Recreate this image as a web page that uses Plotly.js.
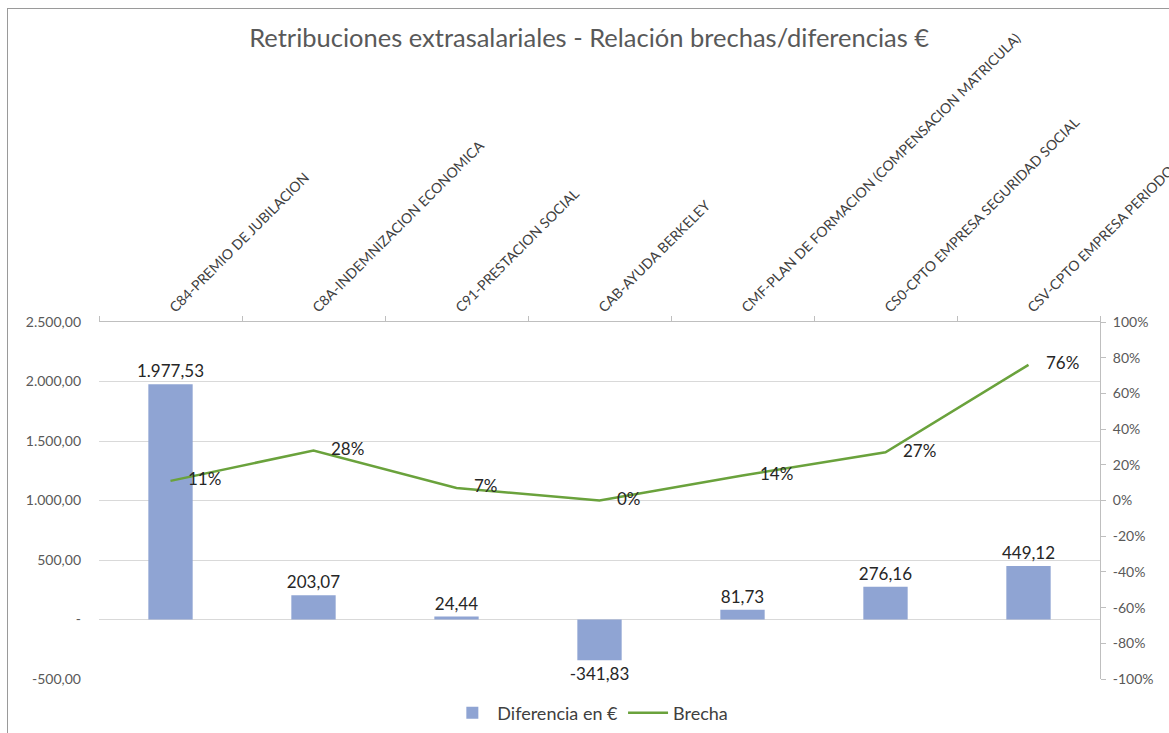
<!DOCTYPE html>
<html>
<head>
<meta charset="utf-8">
<script src="https://cdn.plot.ly/plotly-3.0.1.min.js"></script>
<style>
  html, body { margin: 0; padding: 0; background: #ffffff; }
  #frame { position: absolute; left: 7px; top: 8px; width: 1300px; height: 900px;
           border-left: 1.5px solid #9a9a9a; border-top: 1.5px solid #9a9a9a; }
  #chart { position: absolute; left: 0; top: 0; width: 1169px; height: 733px; }
</style>
</head>
<body>
<div id="frame"></div>
<div id="chart"></div>
<script>
const categories = [
  "C84-PREMIO DE JUBILACION",
  "C8A-INDEMNIZACION ECONOMICA",
  "C91-PRESTACION SOCIAL",
  "CAB-AYUDA BERKELEY",
  "CMF-PLAN DE FORMACION (COMPENSACION MATRICULA)",
  "CS0-CPTO EMPRESA SEGURIDAD SOCIAL",
  "CSV-CPTO EMPRESA PERIODO"
];
const diferencia = [1977.53, 203.07, 24.44, -341.83, 81.73, 276.16, 449.12];
const brecha = [0.11, 0.28, 0.07, 0.00, 0.14, 0.27, 0.76];

const leftTickVals = [-500, 0, 500, 1000, 1500, 2000, 2500];
const leftTickText = ["-500,00", "-", "500,00", "1.000,00", "1.500,00", "2.000,00", "2.500,00"];
const rightTickVals = [-1, -0.8, -0.6, -0.4, -0.2, 0, 0.2, 0.4, 0.6, 0.8, 1];
const rightTickText = ["-100%", "-80%", "-60%", "-40%", "-20%", "0%", "20%", "40%", "60%", "80%", "100%"];

function fmtEs(v) {
  const neg = v < 0;
  const parts = Math.abs(v).toFixed(2).split(".");
  const intPart = parts[0].replace(/\B(?=(\d{3})+(?!\d))/g, ".");
  return (neg ? "-" : "") + intPart + "," + parts[1];
}
function fmtPct(v) { return Math.round(v * 100) + "%"; }

const FONT = "Lato, 'Open Sans', sans-serif";

const barTrace = {
  type: "bar",
  name: "Diferencia en €",
  x: categories,
  y: diferencia,
  width: 0.31,
  marker: { color: "#8FA4D3" },
  text: diferencia.map(fmtEs),
  textposition: "outside",
  constraintext: "none",
  textfont: { family: FONT, size: 17, color: "#262626" },
  cliponaxis: false,
  hoverinfo: "x+y"
};

const lineTrace = {
  type: "scatter",
  mode: "lines+text",
  name: "Brecha",
  x: categories,
  y: brecha,
  yaxis: "y2",
  line: { color: "#6AA23C", width: 2.5 },
  text: brecha.map(v => "    " + fmtPct(v)),
  textposition: "middle right",
  textfont: { family: FONT, size: 17, color: "#262626" },
  cliponaxis: false
};

const layout = {
  width: 1169,
  height: 733,
  paper_bgcolor: "rgba(0,0,0,0)",
  plot_bgcolor: "rgba(0,0,0,0)",
  font: { family: FONT, color: "#595959" },
  margin: { l: 99, r: 69, t: 322, b: 54, autoexpand: false },
  title: {
    text: "Retribuciones extrasalariales - Relación brechas/diferencias €",
    font: { family: FONT, size: 25.5, color: "#595959" },
    x: 0.504, xref: "container", xanchor: "center",
    y: 1 - 38 / 733, yref: "container", yanchor: "middle"
  },
  showlegend: true,
  legend: {
    orientation: "h",
    x: 0.505, xanchor: "center", xref: "container",
    y: 1 - 713 / 733, yanchor: "middle", yref: "container",
    itemwidth: 40,
    font: { family: FONT, size: 18, color: "#404040" },
    traceorder: "normal"
  },
  xaxis: {
    type: "category",
    side: "top",
    anchor: "y",
    automargin: false,
    showline: true,
    linecolor: "#bfbfbf",
    linewidth: 1,
    ticks: "outside",
    tickson: "boundaries",
    ticklen: 5,
    tickcolor: "#bfbfbf",
    tickangle: -45,
    tickfont: { family: FONT, size: 14, color: "#404040" },
    showgrid: false,
    fixedrange: true
  },
  yaxis: {
    range: [-500, 2500],
    automargin: false,
    tickvals: leftTickVals,
    ticktext: leftTickText,
    showgrid: true,
    gridcolor: "#d9d9d9",
    gridwidth: 1,
    zeroline: false,
    showline: false,
    ticks: "",
    ticklabelstandoff: 17,
    tickfont: { family: FONT, size: 14, color: "#595959" }
  },
  yaxis2: {
    overlaying: "y",
    side: "right",
    automargin: false,
    range: [-1, 1],
    tickvals: rightTickVals,
    ticktext: rightTickText,
    showgrid: false,
    zeroline: false,
    showline: true,
    linecolor: "#bfbfbf",
    ticks: "outside",
    ticklen: 5,
    tickcolor: "#bfbfbf",
    ticklabelstandoff: 4,
    tickfont: { family: FONT, size: 14, color: "#595959" }
  }
};

Plotly.newPlot("chart", [barTrace, lineTrace], layout, { displayModeBar: false, staticPlot: true });
</script>
</body>
</html>
